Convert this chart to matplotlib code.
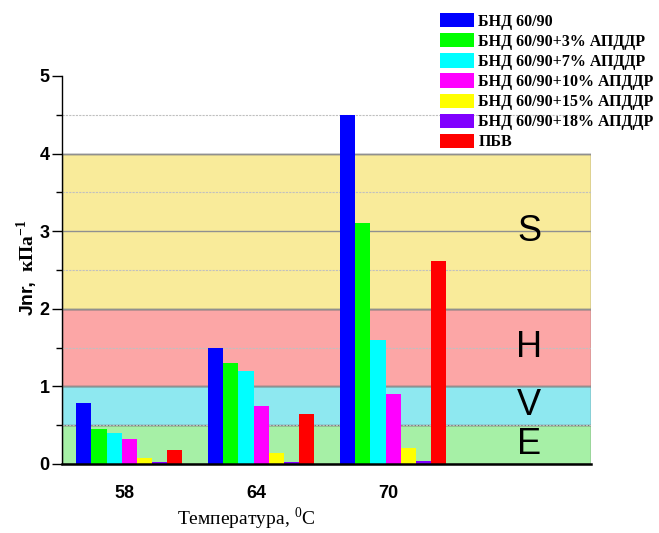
import matplotlib
matplotlib.use('Agg')
import matplotlib.pyplot as plt
from matplotlib.patches import Rectangle
import numpy as np

plt.rcParams['mathtext.fontset'] = 'custom'
plt.rcParams['mathtext.rm'] = 'Liberation Serif'
plt.rcParams['mathtext.bf'] = 'Liberation Serif:bold'

# data
temperatures = ['58', '64', '70']
series_labels = ['БНД 60/90', 'БНД 60/90+3% АПДДР', 'БНД 60/90+7% АПДДР',
                 'БНД 60/90+10% АПДДР', 'БНД 60/90+15% АПДДР',
                 'БНД 60/90+18% АПДДР', 'ПБВ']
jnr_bnd = [0.78, 1.50, 4.50]
jnr_3 = [0.45, 1.30, 3.10]
jnr_7 = [0.40, 1.20, 1.60]
jnr_10 = [0.32, 0.75, 0.90]
jnr_15 = [0.08, 0.14, 0.21]
jnr_18 = [0.02, 0.03, 0.04]
jnr_pbv = [0.18, 0.64, 2.61]
series_values = [jnr_bnd, jnr_3, jnr_7, jnr_10, jnr_15, jnr_18, jnr_pbv]
series_colors = ['#0000ff', '#00ff00', '#00ffff', '#ff00ff', '#ffff00', '#8000ff', '#ff0000']

# traffic-level zones (E, V, H, S)
zone_names = ['E', 'V', 'H', 'S']
zone_low = [0.0, 0.5, 1.0, 2.0]
zone_high = [0.5, 1.0, 2.0, 4.0]
zone_colors = ['#a6f0a6', '#8ee8f0', '#fca6a6', '#f9eb9a']

fig = plt.figure(figsize=(6.59, 5.33), dpi=100)
ax = fig.add_axes([62/659, 1-464/533, (591-62)/659, (464-76)/533])

x = np.arange(len(temperatures))
w = 0.115
ax.set_xlim(-0.51, 3.5)
ax.set_ylim(0, 5)

# zone bands
for name, lo, hi, col in zip(zone_names, zone_low, zone_high, zone_colors):
    ax.add_patch(Rectangle((-0.51, lo), 4.01, hi - lo, facecolor=col,
                           edgecolor='#707070', linewidth=1.0, zorder=0))
    ax.text(3.03, (lo + hi) / 2, name, ha='center', va='center', fontsize=26,
            family='Liberation Sans', zorder=1)

# gridlines
for yv in [1, 2, 3, 4]:
    ax.axhline(yv, color='#909090', linewidth=1.0, zorder=0.5)
for yv in [0.5, 1.5, 2.5, 3.5, 4.5]:
    ax.axhline(yv, color='#c0c0c0', linewidth=0.8, linestyle='--',
               dashes=(2, 1), zorder=0.5)

for i, (vals, col, lab) in enumerate(zip(series_values, series_colors, series_labels)):
    ax.bar(x + (i - 3) * w, vals, width=w, color=col, label=lab, zorder=2,
           linewidth=0)

ax.spines['top'].set_visible(False)
ax.spines['right'].set_visible(False)
ax.spines['left'].set_linewidth(1.0)
ax.spines['bottom'].set_linewidth(1.8)

ax.set_yticks([0, 1, 2, 3, 4, 5])
ax.set_yticks([0.5, 1.5, 2.5, 3.5, 4.5], minor=True)
ax.tick_params(axis='y', which='major', direction='out', length=7, width=1, pad=2)
ax.tick_params(axis='y', which='minor', direction='out', length=4, width=1)
ax.set_xticks(x - 0.04)
ax.set_xticklabels(temperatures)
ax.tick_params(axis='x', length=0, pad=15)
for lbl in ax.get_yticklabels() + ax.get_xticklabels():
    lbl.set_family('Liberation Sans')
    lbl.set_fontweight('bold')
    lbl.set_fontsize(13)

# axis titles
fig.text(28/659, 1-298/533, 'Jnr,', rotation=90, ha='center', va='center',
         family='Liberation Sans', fontweight='bold', fontsize=14)
fig.text(27/659, 1-246/533, r'кПа$^{\mathbf{-1}}$', rotation=90, ha='center', va='center',
         family='Liberation Serif', fontweight='bold', fontsize=14)
fig.text(246/659, 1-519/533, r'Температура, $^{0}$C', ha='center', va='center',
         family='Liberation Serif', fontsize=14)

leg = fig.legend(loc='upper left', bbox_to_anchor=(440/659, 1-13/533), frameon=False,
                 prop={'family': 'Liberation Serif', 'weight': 'bold', 'size': 11.5},
                 handlelength=2.1, handleheight=1.0, handletextpad=0.3,
                 labelspacing=0.22, borderpad=0, borderaxespad=0)

fig.savefig('out.png', dpi=100, facecolor='white')
